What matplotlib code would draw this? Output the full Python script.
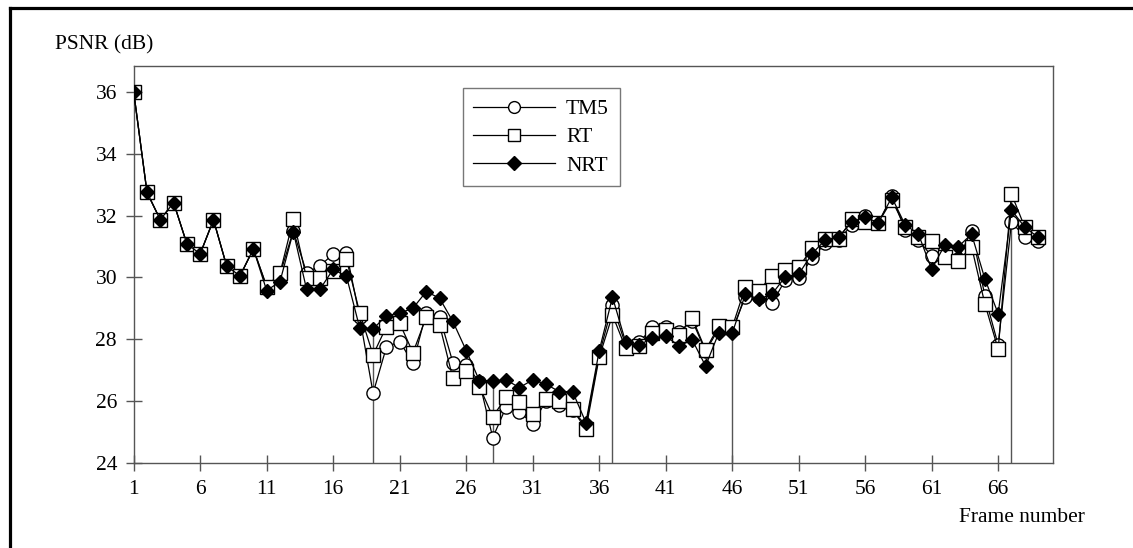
import matplotlib
matplotlib.use("Agg")
import matplotlib.pyplot as plt
from matplotlib.lines import Line2D

plt.rcParams['font.family'] = ['Liberation Serif', 'DejaVu Serif']

frames = list(range(1, 70))

tm5 = [36.0, 32.75, 31.86, 32.42, 31.08, 30.76, 31.86, 30.35, 30.05, 30.92,
       29.7, 30.1, 31.5, 30.15, 30.37, 30.75, 30.8, 28.7, 26.25, 27.74,
       27.92, 27.22, 28.86, 28.73, 27.24, 27.17, 26.6, 24.81, 25.8, 25.65,
       25.26, 26.0, 25.87, 25.7, 25.2, 27.5, 29.1, 27.8, 27.89, 28.38,
       28.38, 28.24, 28.6, 27.6, 28.35, 28.3, 29.37, 29.35, 29.16, 29.92,
       29.97, 30.62, 31.1, 31.2, 31.7, 31.99, 31.77, 32.63, 31.53, 31.2,
       30.69, 30.7, 30.6, 31.51, 29.4, 27.81, 31.78, 31.32, 31.16]

rt = [36.0, 32.75, 31.86, 32.42, 31.08, 30.76, 31.86, 30.35, 30.05, 30.92,
      29.7, 30.13, 31.88, 29.97, 29.97, 30.2, 30.58, 28.84, 27.49, 28.4,
      28.51, 27.56, 28.71, 28.46, 26.73, 26.98, 26.46, 25.49, 26.12, 25.98,
      25.57, 26.05, 26.01, 25.73, 25.08, 27.41, 28.78, 27.7, 27.78, 28.19,
      28.3, 28.14, 28.67, 27.65, 28.43, 28.38, 29.7, 29.57, 30.05, 30.24,
      30.32, 30.94, 31.23, 31.24, 31.88, 31.8, 31.77, 32.5, 31.64, 31.32,
      31.16, 30.67, 30.53, 30.99, 29.14, 27.67, 32.7, 31.62, 31.32]

nrt = [36.0, 32.75, 31.86, 32.42, 31.08, 30.76, 31.86, 30.35, 30.05, 30.92,
       29.57, 29.86, 31.48, 29.61, 29.61, 30.26, 30.03, 28.35, 28.33, 28.76,
       28.84, 29.0, 29.54, 29.32, 28.57, 27.63, 26.65, 26.63, 26.68, 26.43,
       26.68, 26.54, 26.3, 26.3, 25.3, 27.62, 29.36, 27.89, 27.81, 28.03,
       28.1, 27.78, 27.97, 27.13, 28.21, 28.19, 29.46, 29.29, 29.46, 30.02,
       30.1, 30.76, 31.21, 31.3, 31.8, 31.94, 31.77, 32.59, 31.7, 31.4,
       30.26, 31.06, 30.99, 31.4, 29.95, 28.82, 32.18, 31.62, 31.3]

scene_changes = [19, 28, 37, 46, 67]

x_ticks = list(range(1, 67, 5))
y_ticks = list(range(24, 37, 2))

fig = plt.figure(figsize=(11.33, 5.48), dpi=100)
ax = fig.add_axes([0.118, 0.1557, 0.8116, 0.7245])

axis_col = '#555555'
fs = 15.5

# scene-change drop lines
for f in scene_changes:
    i = frames.index(f)
    top = max(tm5[i], rt[i], nrt[i])
    ax.plot([f, f], [24, top], color=axis_col, lw=1.0, zorder=1)

ax.plot(frames, tm5, color='black', lw=0.9, marker='o', markersize=9.5,
        markerfacecolor='white', markeredgecolor='black', markeredgewidth=1.0,
        zorder=3, label='TM5')
ax.plot(frames, rt, color='black', lw=0.9, marker='s', markersize=9.5,
        markerfacecolor='white', markeredgecolor='black', markeredgewidth=1.0,
        zorder=4, label='RT')
ax.plot(frames, nrt, color='black', lw=0.9, marker='D', markersize=7.5,
        markerfacecolor='black', markeredgecolor='black', markeredgewidth=1.0,
        zorder=5, label='NRT')

ax.set_xlim(1, 70.14)
ax.set_ylim(24, 36.85)
ax.set_xticks(x_ticks)
ax.set_yticks(y_ticks)
ax.set_xticklabels([str(v) for v in x_ticks])
ax.set_yticklabels([str(v) for v in y_ticks])

for s in ax.spines.values():
    s.set_color(axis_col)
    s.set_linewidth(1.0)

ax.tick_params(axis='both', direction='inout', length=12, width=1.0,
               color=axis_col, labelsize=fs, labelcolor='black')
ax.tick_params(axis='x', pad=6.5)
ax.tick_params(axis='y', pad=6)

handles = [
    Line2D([], [], color='black', lw=0.9, marker='o', markersize=8.5,
           markerfacecolor='white', markeredgecolor='black'),
    Line2D([], [], color='black', lw=0.9, marker='s', markersize=8.5,
           markerfacecolor='white', markeredgecolor='black'),
    Line2D([], [], color='black', lw=0.9, marker='D', markersize=7,
           markerfacecolor='black', markeredgecolor='black'),
]
leg = fig.legend(handles, ['TM5', 'RT', 'NRT'], loc='upper left',
                 bbox_to_anchor=(462.7 / 1133, 1 - 88.3 / 548),
                 fontsize=fs, frameon=True, fancybox=False, shadow=False,
                 handlelength=3.8, handletextpad=0.5, labelspacing=0.38,
                 borderpad=0.5, borderaxespad=0.0, numpoints=1)
leg.get_frame().set_edgecolor(axis_col)
leg.get_frame().set_linewidth(1.0)

fig.text(55 / 1133, 1 - 45 / 548, 'PSNR (dB)', fontsize=fs, ha='left', va='center')
fig.text(1022 / 1133, 1 - 517 / 548, 'Frame number', fontsize=fs, ha='center', va='center')

# outer frame (top and left edges)
fig.add_artist(Line2D([10 / 1133, 1.0], [1 - 8.3 / 548, 1 - 8.3 / 548],
                      color='black', lw=2.3, transform=fig.transFigure))
fig.add_artist(Line2D([10 / 1133, 10 / 1133], [0.0, 1 - 8.3 / 548],
                      color='black', lw=2.3, transform=fig.transFigure))

fig.savefig('out.png', dpi=100)
